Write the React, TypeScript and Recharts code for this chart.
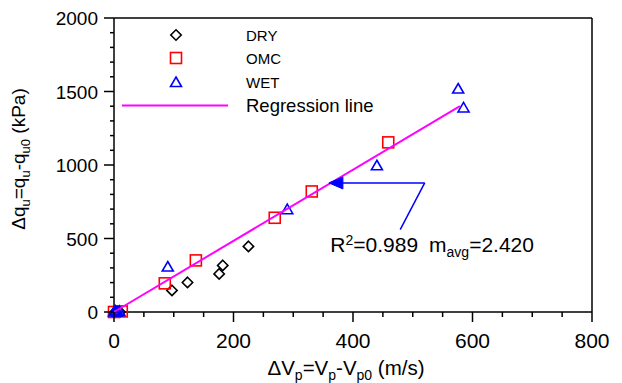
import React from 'react';
import { ScatterChart, Scatter, XAxis, YAxis, ReferenceLine, ReferenceDot } from 'recharts';

const FONT = '"Liberation Sans", Arial, sans-serif';

const dryPoints = [
  { x: 2, y: 0 }, { x: 10, y: 0 }, { x: 97, y: 147 }, { x: 123, y: 201 },
  { x: 176, y: 259 }, { x: 182, y: 317 }, { x: 225, y: 446 },
];
const omcPoints = [
  { x: 0, y: 0 }, { x: 13, y: 4 }, { x: 85, y: 195 }, { x: 137, y: 351 },
  { x: 269, y: 641 }, { x: 331, y: 820 }, { x: 459, y: 1154 },
];
const wetPoints = [
  { x: 0, y: 0 }, { x: 3, y: 3 }, { x: 6, y: 0 }, { x: 9, y: 4 }, { x: 2, y: 6 },
  { x: 90, y: 306 }, { x: 290, y: 696 }, { x: 440, y: 995 },
  { x: 576, y: 1517 }, { x: 585, y: 1388 },
];
const regressionPoints = [{ x: 0, y: 0 }, { x: 579, y: 1401 }];

const xTicks = [0, 50, 100, 150, 200, 250, 300, 350, 400, 450, 500, 550, 600, 650, 700, 750, 800];
const yTicks = [0, 100, 200, 300, 400, 500, 600, 700, 800, 900, 1000, 1100, 1200, 1300, 1400, 1500, 1600, 1700, 1800, 1900, 2000];

const arrowStart = { x: 479, y: 560 };
const arrowCorner = { x: 520, y: 878 };
const arrowTip = { x: 363, y: 878 };
const annotationPos = { x: 362, y: 410 };

const Diamond = (p: any) => {
  const { cx, cy } = p;
  const r = 5.2;
  return <polygon points={`${cx},${cy - r} ${cx + r},${cy} ${cx},${cy + r} ${cx - r},${cy}`} fill="none" stroke="#000" strokeWidth={1.6} />;
};
const Square = (p: any) => {
  const { cx, cy } = p;
  return <rect x={cx - 5.5} y={cy - 5.5} width={11} height={11} fill="none" stroke="#ff0000" strokeWidth={1.6} />;
};
const Triangle = (p: any) => {
  const { cx, cy } = p;
  return <polygon points={`${cx},${cy - 5.5} ${cx + 5.5},${cy + 4} ${cx - 5.5},${cy + 4}`} fill="none" stroke="#0000ff" strokeWidth={1.6} />;
};

const XTick = (props: any) => {
  const { x, y, payload } = props;
  const v = payload.value;
  const major = v % 200 === 0;
  return (
    <g>
      <line x1={x} x2={x} y1={y} y2={y + (major ? 10 : 5)} stroke="#000" strokeWidth={1.5} />
      {major && (
        <text x={x} y={y + 36} textAnchor="middle" fontSize={21} fill="#000" fontFamily={FONT}>{v}</text>
      )}
    </g>
  );
};

const YTick = (props: any) => {
  const { x, y, payload } = props;
  const v = payload.value;
  const major = v % 500 === 0;
  return (
    <g>
      <line x1={x} x2={x - (major ? 10 : 4)} y1={y} y2={y} stroke="#000" strokeWidth={1.5} />
      {major && (
        <text x={x - 16} y={y + 7} textAnchor="end" fontSize={19} fill="#000" fontFamily={FONT}>{v}</text>
      )}
    </g>
  );
};

const XLabel = (props: any) => {
  const vb = props.viewBox || { x: 114, y: 312 };
  const cx = vb.x + 232;
  const cy = vb.y + 63;
  return (
    <text x={cx} y={cy} textAnchor="middle" fontSize={20.5} fill="#000" fontFamily={FONT}>
      <tspan>ΔV</tspan>
      <tspan dy={5} fontSize={14}>p</tspan>
      <tspan dy={-5}>=V</tspan>
      <tspan dy={5} fontSize={14}>p</tspan>
      <tspan dy={-5}>-V</tspan>
      <tspan dy={5} fontSize={14}>p0</tspan>
      <tspan dy={-5}> (m/s)</tspan>
    </text>
  );
};

const YLabel = (props: any) => {
  const vb = props.viewBox || { x: 0, y: 18 };
  const cx = vb.x + 25;
  const cy = vb.y + 141;
  return (
    <text x={cx} y={cy} transform={`rotate(-90, ${cx}, ${cy})`} textAnchor="middle" fontSize={19} fill="#000" fontFamily={FONT}>
      <tspan>Δq</tspan>
      <tspan dy={5} fontSize={13}>u</tspan>
      <tspan dy={-5}>=q</tspan>
      <tspan dy={5} fontSize={13}>u</tspan>
      <tspan dy={-5}>-q</tspan>
      <tspan dy={5} fontSize={13}>u0</tspan>
      <tspan dy={-5}> (kPa)</tspan>
    </text>
  );
};

const ArrowHead = (p: any) => {
  const { cx, cy } = p;
  return <polygon points={`${cx - 2},${cy} ${cx + 12},${cy - 6} ${cx + 12},${cy + 6}`} fill="#0000ff" stroke="#0000ff" />;
};

const Annotation = (p: any) => {
  const { cx, cy } = p;
  return (
    <text x={cx} y={cy} fontSize={21} fill="#000" fontFamily={FONT}>
      <tspan>R</tspan>
      <tspan dy={-7} fontSize={14}>2</tspan>
      <tspan dy={7}>=0.989</tspan>
      <tspan dx={11}>m</tspan>
      <tspan dy={5} fontSize={14}>avg</tspan>
      <tspan dy={-5}>=2.420</tspan>
    </text>
  );
};

const legendItems = [
  { name: 'DRY', y: 35, kind: 'dry' },
  { name: 'OMC', y: 58, kind: 'omc' },
  { name: 'WET', y: 82, kind: 'wet' },
];

const LegendOverlay = () => (
  <svg width={622} height={130} style={{ position: 'absolute', left: 0, top: 0, pointerEvents: 'none' }}>
    {legendItems.map((it) => (
      <g key={it.name}>
        {it.kind === 'dry' && <Diamond cx={176} cy={it.y} />}
        {it.kind === 'omc' && <Square cx={176} cy={it.y} />}
        {it.kind === 'wet' && <Triangle cx={176} cy={it.y + 0.5} />}
        <text x={246} y={it.y + 5.5} fontSize={15} fill="#000" fontFamily={FONT}>{it.name}</text>
      </g>
    ))}
    <line x1={122} x2={228} y1={105.5} y2={105.5} stroke="#ff00ff" strokeWidth={2} />
    <text x={246} y={112} fontSize={18.5} fill="#000" fontFamily={FONT}>Regression line</text>
  </svg>
);

export default function App() {
  return (
    <div style={{ position: 'absolute', left: 0, top: 0, width: 622, height: 383, background: '#fff' }}>
      <ScatterChart width={622} height={383} margin={{ top: 18, right: 30, bottom: 0, left: 0 }}>
        <XAxis
          dataKey="x"
          type="number"
          domain={[0, 800]}
          ticks={xTicks}
          interval={0}
          tickSize={0}
          tickMargin={0}
          tickLine={false}
          tick={<XTick />}
          axisLine={{ stroke: '#000', strokeWidth: 1.5 }}
          height={71}
          label={<XLabel />}
        />
        <YAxis
          dataKey="y"
          type="number"
          domain={[0, 2000]}
          ticks={yTicks}
          interval={0}
          tickSize={0}
          tickMargin={0}
          tickLine={false}
          tick={<YTick />}
          axisLine={{ stroke: '#000', strokeWidth: 1.5 }}
          width={114}
          label={<YLabel />}
        />
        <ReferenceLine y={2000} stroke="#000" strokeWidth={1.5} />
        <ReferenceLine x={800} stroke="#000" strokeWidth={1.5} />
        <Scatter data={dryPoints} shape={<Diamond />} isAnimationActive={false} />
        <Scatter data={omcPoints} shape={<Square />} isAnimationActive={false} />
        <Scatter data={wetPoints} shape={<Triangle />} isAnimationActive={false} />
        <Scatter
          data={regressionPoints}
          line={{ stroke: '#ff00ff', strokeWidth: 2 }}
          shape={() => <g />}
          isAnimationActive={false}
        />
        <ReferenceLine segment={[arrowStart, arrowCorner]} stroke="#0000ff" strokeWidth={1.5} />
        <ReferenceLine segment={[arrowCorner, arrowTip]} stroke="#0000ff" strokeWidth={1.5} />
        <ReferenceDot x={arrowTip.x} y={arrowTip.y} r={0} shape={<ArrowHead />} />
        <ReferenceDot x={annotationPos.x} y={annotationPos.y} r={0} shape={<Annotation />} />
      </ScatterChart>
      <LegendOverlay />
    </div>
  );
}
